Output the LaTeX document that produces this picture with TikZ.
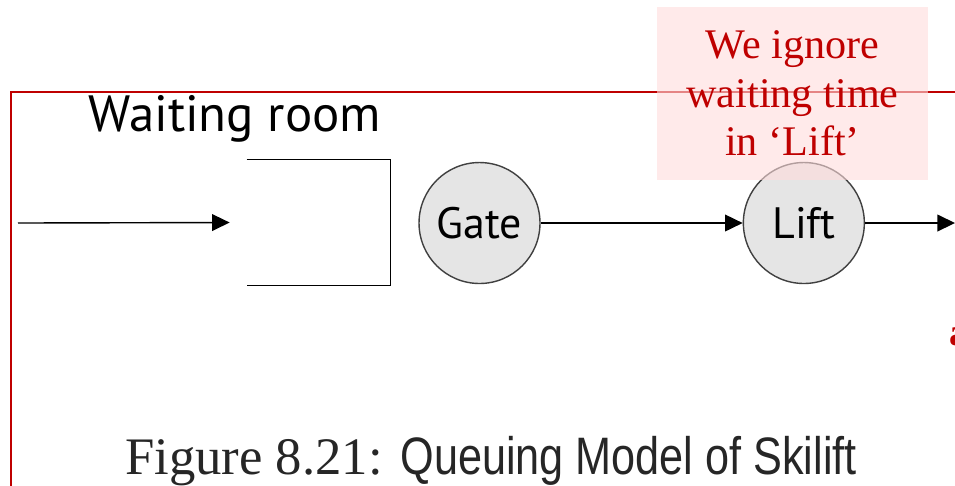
\documentclass[tikz,border=0pt]{standalone}
\usepackage{fontspec}
\setmainfont{Liberation Serif}
\newfontfamily\handfont{PT Sans}
\newfontfamily\capsans[FakeStretch=0.82]{Liberation Sans}
\usepackage{xcolor}
\usetikzlibrary{arrows.meta,positioning}

\begin{document}
\begin{tikzpicture}[
    x=0.02cm, y=-0.02cm,
    station/.style={circle, draw=black!75, fill=black!10, thick, minimum size=2.42cm, inner sep=0pt, font=\handfont\fontsize{25}{28}\selectfont},
    arr/.style={-{Triangle[length=10pt, width=9.5pt]}, line width=0.8pt},
    frame/.style={draw=red!75!black, line width=1.1pt},
    note/.style={rectangle, fill={rgb,255:red,255;green,220;blue,220}, fill opacity=0.6, text opacity=1, text=red!75!black, align=center, minimum width=5.42cm, minimum height=3.46cm, font=\fontsize{24}{27.5}\selectfont}
]
    \useasboundingbox (0,0) rectangle (955,485);
    \fill[white] (0,0) rectangle (955,485);

    % slide frame
    \draw[frame] (1000,92) -- (11,92) -- (11,520);

    % queue: waiting room, gate, lift
    \node[inner sep=0pt, minimum width=2.86cm, minimum height=2.5cm] (room) at (318.5,222.5) {};
    \draw[line width=0.8pt] (room.north west) -- (room.north east) -- (room.south east) -- (room.south west);
    \node[anchor=base, font=\handfont\fontsize{29}{32}\selectfont] (roomlbl) at (235,131) {Waiting room};

    \node[station] (gate) at (479.5,223) {Gate};
    \node[station, right=4.04cm of gate] (lift) {Lift};

    \coordinate (src) at (18,223);
    \coordinate (sink) at (955,223);

    \draw[arr] (src) -- ([xshift=-0.34cm]room.west);
    \draw[arr] (gate) -- (lift);
    \draw[arr] (lift) -- (sink);

    % remark on top
    \node[note] (remark) at (792.5,93.5) {We ignore\\waiting time\\in `Lift'};
    \node[anchor=base west, text=red!75!black, font=\bfseries\fontsize{22}{24}\selectfont] (cut) at (943,345) {a};

    % caption
    \node[anchor=base, text=black!85, font=\fontsize{30}{32}\selectfont] (caption) at (491,474) {Figure 8.21: {\capsans Queuing Model of Skilift}};
\end{tikzpicture}
\end{document}
